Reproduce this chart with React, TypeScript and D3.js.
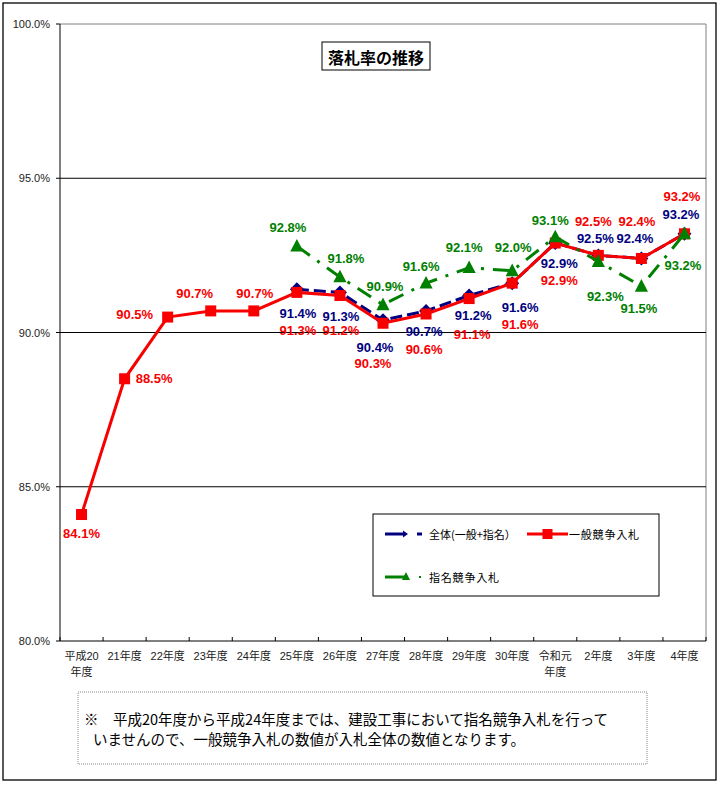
import React from "react";
import * as d3 from "d3";

const categories: string[][] = [
  ["平成20", "年度"], ["21年度"], ["22年度"], ["23年度"], ["24年度"], ["25年度"], ["26年度"],
  ["27年度"], ["28年度"], ["29年度"], ["30年度"], ["令和元", "年度"], ["2年度"], ["3年度"], ["4年度"],
];
const ippan: (number | null)[] = [84.1, 88.5, 90.5, 90.7, 90.7, 91.3, 91.2, 90.3, 90.6, 91.1, 91.6, 92.9, 92.5, 92.4, 93.2];
const zentai: (number | null)[] = [null, null, null, null, null, 91.4, 91.3, 90.4, 90.7, 91.2, 91.6, 92.9, 92.5, 92.4, 93.2];
const shimei: (number | null)[] = [null, null, null, null, null, 92.8, 91.8, 90.9, 91.6, 92.1, 92.0, 93.1, 92.3, 91.5, 93.2];
const yTicks: number[] = [80, 85, 90, 95, 100];

// label placement offsets (pixels, relative to the point)
const ippanOff: [number, number][] = [
  [0, 18.5], [29.5, 0], [-33, -3], [-16, -17], [1, -17], [1, 38], [1, 35], [-10, 40],
  [-2, 35.5], [3, 36], [8, 41], [4, 37], [-5, -34], [-4.5, -37], [-2.5, -37],
];
const zentaiOff: [number, number][] = [
  [0, 0], [0, 0], [0, 0], [0, 0], [0, 0], [1, 24], [1, 24], [-8, 27], [-2, 21], [4, 20.5],
  [8, 24], [4, 20], [-3, -16.5], [-6.5, -19.5], [-3.5, -19],
];
const shimeiOff: [number, number][] = [
  [0, 0], [0, 0], [0, 0], [0, 0], [0, 0], [-9, -19], [6, -18], [2, -18], [-5, -17], [-5, -20],
  [1, -23], [-5, -16], [7, 34.5], [-2.5, 22], [-1.5, 32],
];

const RED = "#f80000";
const NAVY = "#000080";
const GREEN = "#008000";
const FONT = "'Liberation Sans', Arial, 'Noto Sans CJK JP', sans-serif";
const JFONT = "'Noto Sans CJK JP', sans-serif";

export default function App() {
  const W = 720, H = 785;
  const L = 60, R = 706, T = 24, B = 641;
  const x = d3.scaleBand<number>().domain(d3.range(categories.length)).range([L, R]);
  const cx = (i: number) => (x(i) as number) + x.bandwidth() / 2;
  const y = d3.scaleLinear().domain([80, 100]).range([B, T]);

  const line = d3.line<number | null>()
    .defined((d) => d !== null)
    .x((_, i) => cx(i))
    .y((d) => y(d as number));

  const fmt = (v: number) => v.toFixed(1) + "%";

  const labels = (data: (number | null)[], off: [number, number][], color: string) =>
    data.map((v, i) =>
      v === null ? null : (
        <text key={i} x={cx(i) + off[i][0]} y={y(v) + off[i][1]} textAnchor="middle" dominantBaseline="central"
          fill={color} fontSize={13} fontWeight="bold" fontFamily={FONT}>{fmt(v)}</text>
      )
    );

  const tri = (px: number, py: number, s: number) =>
    `M${px},${py - s * 0.6}L${px + s * 0.55},${py + s * 0.45}L${px - s * 0.55},${py + s * 0.45}Z`;

  return (
    <svg width={W} height={H} style={{ position: "absolute", left: 0, top: 0 }}>
      <rect x={0} y={0} width={W} height={H} fill="#fff" />
      <rect x={3} y={3} width={713} height={777} fill="none" stroke="#000" strokeWidth={1.3} />
      {/* plot frame */}
      <line x1={L} x2={R} y1={T} y2={T} stroke="#808080" />
      <line x1={R} x2={R} y1={T} y2={B} stroke="#808080" />
      {yTicks.filter((t) => t > 80 && t < 100).map((t) => (
        <line key={t} x1={L} x2={R} y1={y(t)} y2={y(t)} stroke="#000" strokeWidth={1} />
      ))}
      <line x1={L} x2={L} y1={T} y2={B} stroke="#000" />
      <line x1={L} x2={R} y1={B} y2={B} stroke="#000" />
      {yTicks.map((t) => (
        <g key={t}>
          <line x1={L - 4} x2={L} y1={y(t)} y2={y(t)} stroke="#000" />
          <text x={50} y={y(t)} textAnchor="end" dominantBaseline="central" fontSize={11} fontFamily={FONT} fill="#222">
            {t.toFixed(1) + "%"}
          </text>
        </g>
      ))}
      {d3.range(categories.length + 1).map((i) => {
        const xx = L + i * x.step();
        return <line key={i} x1={xx} x2={xx} y1={B} y2={B - 4} stroke="#000" />;
      })}
      {categories.map((c, i) => (
        <text key={i} x={cx(i)} y={656} textAnchor="middle" fontSize={11} fontFamily={FONT} fill="#222">
          {c.map((s, k) => (
            <tspan key={k} x={cx(i)} dy={k === 0 ? 0 : 16} dominantBaseline="central">{s}</tspan>
          ))}
        </text>
      ))}
      {/* title */}
      <rect x={322} y={42} width={108} height={28} fill="#fff" stroke="#000" strokeWidth={1} />
      <text x={376} y={57} textAnchor="middle" dominantBaseline="central" fontSize={16} fontWeight="bold" fontFamily={JFONT}>落札率の推移</text>

      {/* series */}
      <path d={line(zentai) || ""} fill="none" stroke={NAVY} strokeWidth={3} strokeDasharray="12,5" />
      {zentai.map((v, i) => v === null ? null : (
        <path key={i} d={`M${cx(i)},${y(v) - 7}L${cx(i) + 7},${y(v)}L${cx(i)},${y(v) + 7}L${cx(i) - 7},${y(v)}Z`} fill={NAVY} />
      ))}
      <path d={line(ippan) || ""} fill="none" stroke={RED} strokeWidth={3} />
      {ippan.map((v, i) => v === null ? null : (
        <rect key={i} x={cx(i) - 5.5} y={y(v as number) - 5.5} width={11} height={11} fill={RED} />
      ))}
      <path d={line(shimei) || ""} fill="none" stroke={GREEN} strokeWidth={3} strokeDasharray="16,9,3,9" />
      {shimei.map((v, i) => v === null ? null : (
        <path key={i} d={tri(cx(i), y(v as number), 12)} fill={GREEN} />
      ))}

      {labels(ippan, ippanOff, RED)}
      {labels(zentai, zentaiOff, NAVY)}
      {labels(shimei, shimeiOff, GREEN)}

      {/* legend */}
      <rect x={373} y={514} width={286} height={82} fill="#fff" stroke="#000" strokeWidth={1} />
      <line x1={385} x2={404} y1={534} y2={534} stroke={NAVY} strokeWidth={3} />
      <path d="M408,534L403,530.5L403,537.5Z" fill={NAVY} />
      <line x1={417} x2={422} y1={534} y2={534} stroke={NAVY} strokeWidth={3} />
      <text x={429} y={534} dominantBaseline="central" fontSize={11} fontFamily={JFONT}>全体(一般+指名）</text>
      <line x1={527} x2={568} y1={534} y2={534} stroke={RED} strokeWidth={3} />
      <rect x={542.5} y={529} width={10} height={10} fill={RED} />
      <text x={569} y={534} dominantBaseline="central" fontSize={11} fontFamily={JFONT} letterSpacing={0.8}>一般競争入札</text>
      <line x1={385} x2={406} y1={577} y2={577} stroke={GREEN} strokeWidth={3} />
      <path d="M406,572L410,580L402,580Z" fill={GREEN} />
      <rect x={419} y={576} width={2} height={2} fill={GREEN} />
      <text x={429} y={577} dominantBaseline="central" fontSize={11} fontFamily={JFONT} letterSpacing={0.8}>指名競争入札</text>

      {/* footnote */}
      <rect x={78} y={692} width={569} height={72} fill="none" stroke="#888" strokeWidth={1} strokeDasharray="1,1" />
      <text x={84} y={718} dominantBaseline="central" fontSize={14.5} fontFamily={JFONT} fill="#000">
        ※　平成20年度から平成24年度までは、建設工事において指名競争入札を行って
      </text>
      <text x={93} y={738} dominantBaseline="central" fontSize={14.5} fontFamily={JFONT} fill="#000">
        いませんので、一般競争入札の数値が入札全体の数値となります。
      </text>
    </svg>
  );
}
